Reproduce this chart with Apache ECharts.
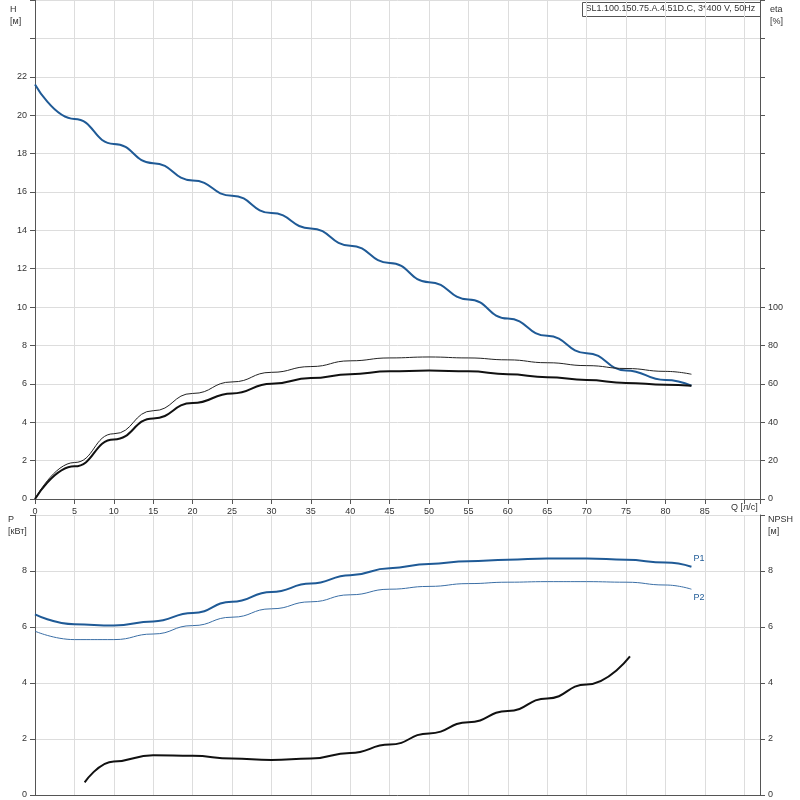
<!DOCTYPE html>
<html><head><meta charset="utf-8">
<script src="https://cdn.jsdelivr.net/npm/echarts@6/dist/echarts.min.js"></script>
<style>html,body{margin:0;background:#fff}#c{width:800px;height:800px}</style>
</head><body><div id="c"></div>
<script>
const qH = [0,5,10,15,20,25,30,35,40,45,50,55,60,65,70,75,80,83.3];
const head = [21.6,19.8,18.5,17.5,16.6,15.8,14.9,14.1,13.2,12.3,11.3,10.4,9.4,8.5,7.6,6.7,6.2,5.9];
const etaTotal = [0,17,31,42,50,55,60,63,65,66.5,67,66.5,65,63.5,62,60.5,59.5,59];
const etaHyd = [0,19,34,46,55,61,66,69,72,73.5,74,73.5,72.5,71,69.5,68,66.5,65];
const p1 = [6.45,6.1,6.05,6.2,6.5,6.9,7.25,7.55,7.85,8.1,8.25,8.35,8.4,8.45,8.45,8.4,8.3,8.15];
const p2 = [5.85,5.55,5.55,5.75,6.05,6.35,6.65,6.9,7.15,7.35,7.45,7.55,7.6,7.62,7.62,7.6,7.5,7.35];
const qNpsh = [6.3,10,15,20,25,30,35,40,45,50,55,60,65,70,75.5];
const npsh = [0.45,1.2,1.42,1.4,1.3,1.25,1.3,1.5,1.8,2.2,2.6,3.0,3.45,3.95,4.95];

const zip = (xs, ys) => xs.map((x, i) => [x, ys[i]]);
const blue = '#1f5a96', lab = {color:'#333', fontSize:9, fontFamily:'Arial'};
const split = {show:true, lineStyle:{color:'#ddd'}};
const axLine = {show:true, lineStyle:{color:'#555'}};
const curve = {type:'line', smooth:0.5, smoothMonotone:'x', symbol:'none'};

const chart = echarts.init(document.getElementById('c'));
chart.setOption({
  animation:false,
  graphic:[
    {type:'text', left:10, top:4, style:{text:'H\n[м]', fill:'#333', font:'9px Arial', lineHeight:12}},
    {type:'text', left:770, top:4, style:{text:'eta\n[%]', fill:'#333', font:'9px Arial', lineHeight:12}},
    {type:'text', left:8, top:514, style:{text:'P\n[кВт]', fill:'#333', font:'9px Arial', lineHeight:12, align:'center'}},
    {type:'text', left:768, top:514, style:{text:'NPSH\n[м]', fill:'#333', font:'9px Arial', lineHeight:12}},
    {type:'group', left:582, top:2, children:[
      {type:'rect', shape:{x:0,y:0,width:178,height:14}, style:{fill:'#fff', stroke:'#555', lineWidth:1}},
      {type:'text', x:3, y:2, style:{text:'SL1.100.150.75.A.4.51D.C, 3*400 V, 50Hz', fill:'#333', font:'9px Arial'}}
    ]},
    {type:'text', left:731, top:503, style:{text:'Q [л/с]', fill:'#333', font:'9px Arial'}}
  ],
  grid:[
    {left:35, right:40, top:0, height:499},
    {left:35, right:40, top:515, height:280}
  ],
  xAxis:[
    {gridIndex:0, type:'value', min:0, max:92, interval:5, axisLine:axLine, axisTick:{show:true}, splitLine:split,
     axisLabel:Object.assign({}, lab, {formatter:v => v <= 85 ? v : ''})},
    {gridIndex:1, type:'value', min:0, max:92, interval:5, axisLine:axLine, axisTick:{show:false}, splitLine:split, axisLabel:{show:false}}
  ],
  yAxis:[
    {gridIndex:0, type:'value', min:0, max:26, interval:2, axisLine:axLine, axisTick:{show:true}, splitLine:split,
     axisLabel:Object.assign({}, lab, {formatter:v => v <= 22 ? v : ''})},
    {gridIndex:0, type:'value', position:'right', min:0, max:260, interval:20, axisLine:axLine, axisTick:{show:true}, splitLine:{show:false},
     axisLabel:Object.assign({}, lab, {formatter:v => v <= 100 ? v : ''})},
    {gridIndex:1, type:'value', min:0, max:10, interval:2, axisLine:axLine, axisTick:{show:true}, splitLine:split,
     axisLabel:Object.assign({}, lab, {formatter:v => v <= 8 ? v : ''})},
    {gridIndex:1, type:'value', position:'right', min:0, max:10, interval:2, axisLine:axLine, axisTick:{show:true}, splitLine:{show:false},
     axisLabel:Object.assign({}, lab, {formatter:v => v <= 8 ? v : ''})}
  ],
  series:[
    Object.assign({}, curve, {xAxisIndex:0, yAxisIndex:0, data:zip(qH, head), lineStyle:{color:blue, width:2}}),
    Object.assign({}, curve, {xAxisIndex:0, yAxisIndex:1, data:zip(qH, etaHyd), lineStyle:{color:'#222', width:1}}),
    Object.assign({}, curve, {xAxisIndex:0, yAxisIndex:1, data:zip(qH, etaTotal), lineStyle:{color:'#111', width:2}}),
    Object.assign({}, curve, {xAxisIndex:1, yAxisIndex:2, data:zip(qH, p1), lineStyle:{color:blue, width:2},
     endLabel:{show:true, formatter:'P1', color:blue, fontSize:9, offset:[-6,-8]}}),
    Object.assign({}, curve, {xAxisIndex:1, yAxisIndex:2, data:zip(qH, p2), lineStyle:{color:'#3a6ea5', width:1},
     endLabel:{show:true, formatter:'P2', color:blue, fontSize:9, offset:[-6,8]}}),
    Object.assign({}, curve, {xAxisIndex:1, yAxisIndex:3, data:zip(qNpsh, npsh), lineStyle:{color:'#111', width:2}})
  ]
});
</script></body></html>
